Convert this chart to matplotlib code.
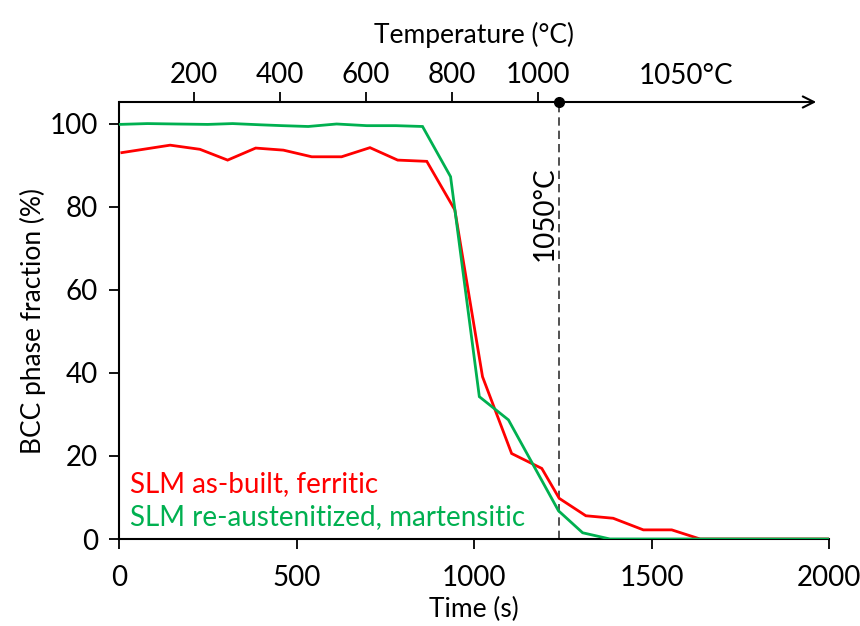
import matplotlib
matplotlib.use("Agg")
import matplotlib.pyplot as plt
import numpy as np

plt.rcParams['font.family'] = ['Lato', 'DejaVu Sans']

# ---- data ----
red_time = [8, 144, 228, 306, 385, 463, 543, 627, 707, 785, 867, 946, 1024, 1106, 1191, 1240, 1315, 1392, 1477, 1557, 1637, 2000]
red_frac = [93.1, 94.9, 93.9, 91.3, 94.2, 93.7, 92.1, 92.1, 94.3, 91.3, 91.0, 79.3, 39.1, 20.6, 17.0, 9.8, 5.6, 5.0, 2.2, 2.2, 0.0, 0.0]

green_time = [0, 80, 160, 250, 320, 400, 460, 533, 613, 698, 780, 855, 934, 1015, 1097, 1238, 1306, 1383, 2000]
green_frac = [99.9, 100.1, 100.0, 99.9, 100.1, 99.8, 99.6, 99.4, 100.0, 99.6, 99.6, 99.4, 87.3, 34.3, 28.7, 6.8, 1.5, 0.0, 0.0]

red_label = "SLM as-built, ferritic"
green_label = "SLM re-austenitized, martensitic"

x_ticks = [0, 500, 1000, 1500, 2000]
y_ticks = [0, 20, 40, 60, 80, 100]
temp_ticks = [200, 400, 600, 800, 1000]
hold_temp = 1050      # °C
hold_time = 1240      # s, time at which hold temperature is reached
heat_rate = 200 / 242  # °C per s

def t2T(t):
    return hold_temp - (hold_time - np.asarray(t, dtype=float)) * heat_rate

def T2t(T):
    return hold_time - (hold_temp - np.asarray(T, dtype=float)) / heat_rate

RED = '#FF0000'
GREEN = '#00B050'
FS = 20
LFS = 19

fig = plt.figure(figsize=(8.6, 6.26), dpi=100)
ax = fig.add_axes([119/860, 1 - 539/626, (829-119)/860, (539-102)/626])

ax.plot(red_time, red_frac, color=RED, lw=2.0, solid_joinstyle='miter', zorder=3)
ax.plot(green_time, green_frac, color=GREEN, lw=2.0, solid_joinstyle='miter', zorder=4)

ax.set_xlim(0, 2000)
ymax = 105.3
ax.set_ylim(0, ymax)
ax.set_xticks(x_ticks)
ax.set_yticks(y_ticks)
ax.tick_params(axis='both', direction='out', length=7, width=1.3, labelsize=FS, color='black')
ax.tick_params(axis='x', pad=12)
ax.tick_params(axis='y', pad=8)

for s in ['right', 'top']:
    ax.spines[s].set_visible(False)
for s in ['left', 'bottom']:
    ax.spines[s].set_linewidth(1.5)

ax.set_xlabel("Time (s)", fontsize=LFS, labelpad=4)
ax.set_ylabel("BCC phase fraction (%)", fontsize=LFS, labelpad=3)

# dashed line at hold start
ax.plot([hold_time, hold_time], [0, ymax], color='#333333', lw=1.2, ls=(0, (5, 3)), zorder=2, clip_on=False)
ax.text(hold_time - 40, 78.5, "1050°C", rotation=90, ha='center', va='center', fontsize=FS)

# top temperature axis
sec = ax.secondary_xaxis('top', functions=(t2T, T2t))
sec.set_xticks(temp_ticks)
sec.tick_params(direction='out', length=7, width=1.3, labelsize=FS, pad=3)
sec.spines['top'].set_visible(False)
sec.set_xlabel("Temperature (°C)", fontsize=LFS, labelpad=14)

ax.annotate('', xy=(0.982, 1.0), xytext=(0.0, 1.0), xycoords='axes fraction',
            arrowprops=dict(arrowstyle='->', lw=1.5, color='black', mutation_scale=20,
                            shrinkA=0, shrinkB=0), annotation_clip=False)
ax.plot([hold_time], [ymax], 'o', color='black', ms=7, clip_on=False, zorder=6)
ax.text(1597, ymax + 3.2, "1050°C", ha='center', va='bottom', fontsize=FS)

# inline legend texts
ax.text(30, 13.3, red_label, color=RED, fontsize=FS, ha='left', va='center')
ax.text(30, 5.3, green_label, color=GREEN, fontsize=FS, ha='left', va='center')

fig.savefig("out.png", dpi=100)
